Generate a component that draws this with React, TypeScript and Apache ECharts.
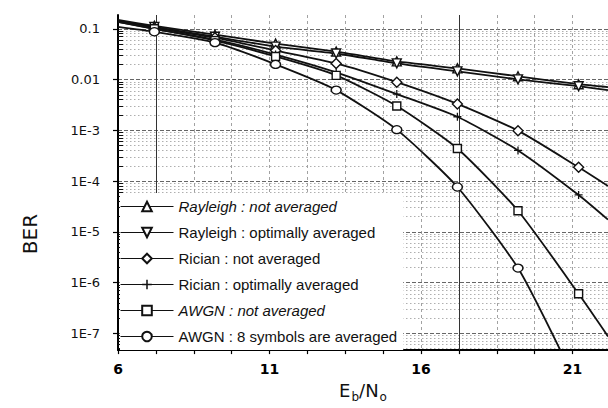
import React, { useEffect, useRef } from "react";
import * as echarts from "echarts";

// Eb/N0 positions of the plotted markers
const EBN0 = [7.2, 9.2, 11.2, 13.2, 15.2, 17.2, 19.2, 21.2];
const X_MIN = 6;
const X_MAX = 22.17;
const X_STEP = 1.25;
const X_LABELS = [6, 11, 16, 21];
const X_SOLID_LINES = [7.25, 17.25];

const Y_MIN = 4.67e-8;
const Y_MAX = 0.187;
const Y_TICKS = [0.1, 0.01, 1e-3, 1e-4, 1e-5, 1e-6, 1e-7];
const Y_TICK_TEXT = ["0.1", "0.01", "1E-3", "1E-4", "1E-5", "1E-6", "1E-7"];
const DECADES = [1e-8, 1e-7, 1e-6, 1e-5, 1e-4, 1e-3, 1e-2, 1e-1];
const MINOR_MULT = [2, 3, 4, 5, 6, 7, 8, 9];

const NAMES = [
  "Rayleigh : not averaged",
  "Rayleigh : optimally averaged",
  "Rician : not averaged",
  "Rician : optimally averaged",
  "AWGN : not averaged",
  "AWGN : 8 symbols are averaged",
];
const ITALIC = [true, false, false, false, true, false];

// BER values at the markers (EBN0), plus curve start (Eb/N0 = 6) and end points
const rayleighNotAvg = [0.114, 0.0764, 0.051, 0.0356, 0.0228, 0.0166, 0.0116, 0.0081];
const rayleighNotAvgEnds = [[6, 0.15], [22.17, 0.0071]];
const rayleighAvg = [0.109, 0.0698, 0.0446, 0.0326, 0.0208, 0.0145, 0.0101, 0.0074];
const rayleighAvgEnds = [[6, 0.143], [22.17, 0.0062]];
const ricianNotAvg = [0.105, 0.0668, 0.0373, 0.0208, 0.00887, 0.00331, 0.000985, 0.000187];
const ricianNotAvgEnds = [[6, 0.143], [22.17, 8.0e-5]];
const ricianAvg = [0.1, 0.0611, 0.0311, 0.0139, 0.00518, 0.00185, 0.000402, 0.0000533];
const ricianAvgEnds = [[6, 0.137], [22.17, 1.74e-5]];
const awgnNotAvg = [0.1, 0.0584, 0.0285, 0.0121, 0.00302, 0.000439, 0.000026, 6.0e-7];
const awgnNotAvgEnds = [[6, 0.137], [22.17, 8.7e-8]];
const awgnAvg = [0.0874, 0.0534, 0.0199, 0.0062, 0.00103, 0.0000764, 0.00000193];
const awgnAvgEnds = [[6, 0.109], [20.6, 4.6e-8]];

const PLUS = "path://M4.2,0H5.8V4.2H10V5.8H5.8V10H4.2V5.8H0V4.2H4.2Z";

function build(marks: number[], ends: number[][]) {
  return [
    { value: ends[0], symbol: "none" },
    ...marks.map((v, i) => [EBN0[i], v]),
    { value: ends[1], symbol: "none" },
  ];
}

export default function App() {
  const ref = useRef<HTMLDivElement>(null);
  useEffect(() => {
    if (!ref.current) return;
    const chart = echarts.init(ref.current, null, { renderer: "svg" });

    const minors: number[] = [];
    DECADES.forEach((d) =>
      MINOR_MULT.forEach((m) => {
        const v = m * d;
        if (v > Y_MIN && v < Y_MAX) minors.push(v);
      })
    );

    const lineBase = {
      type: "line",
      smooth: 0.2,
      lineStyle: { color: "#111", width: 1.8 },
      itemStyle: { color: "#fff", borderColor: "#111", borderWidth: 1.4 },
      z: 3,
    };

    const specs = [
      { d: build(rayleighNotAvg, rayleighNotAvgEnds), symbol: "triangle", size: 9, rot: 0 },
      { d: build(rayleighAvg, rayleighAvgEnds), symbol: "triangle", size: 9, rot: 180 },
      { d: build(ricianNotAvg, ricianNotAvgEnds), symbol: "diamond", size: [10, 10], rot: 0 },
      { d: build(ricianAvg, ricianAvgEnds), symbol: PLUS, size: 8, rot: 0, filled: true },
      { d: build(awgnNotAvg, awgnNotAvgEnds), symbol: "rect", size: 8, rot: 0 },
      { d: build(awgnAvg, awgnAvgEnds), symbol: "circle", size: [10, 8], rot: 0 },
    ];

    const series: any[] = specs.map((s, i) => ({
      ...lineBase,
      name: NAMES[i],
      data: s.d,
      symbol: s.symbol,
      symbolSize: s.size,
      symbolRotate: s.rot,
      itemStyle: s.filled
        ? { color: "#111", borderColor: "#111", borderWidth: 0 }
        : lineBase.itemStyle,
    }));

    series.push({
      type: "line",
      name: "grid-helper",
      data: [],
      silent: true,
      markLine: {
        z: 1,
        silent: true,
        precision: 20,
        symbol: ["none", "none"],
        label: { show: false },
        data: [
          ...minors.map((v) => ({
            yAxis: v,
            lineStyle: { color: "#9a9a9a", type: [1.5, 2.5], width: 0.8 },
          })),
          ...minors.map((v) => [
            { coord: [X_MIN, v], lineStyle: { color: "#111", type: "solid", width: 1 } },
            { coord: [X_MIN + 0.17, v] },
          ]),
          ...X_SOLID_LINES.map((x) => ({
            xAxis: x,
            lineStyle: { color: "#333", type: "solid", width: 1 },
          })),
        ],
      },
    });

    chart.setOption({
      animation: false,
      backgroundColor: "#fff",
      grid: { left: 118, right: 0, top: 15, bottom: 54, containLabel: false },
      graphic: [
        {
          type: "text",
          x: 30,
          y: 234,
          rotation: Math.PI / 2,
          style: {
            text: "BER",
            fontSize: 20,
            fontFamily: "DejaVu Sans",
            fill: "#111",
            align: "center",
            verticalAlign: "middle",
            textAlign: "center",
            textVerticalAlign: "middle",
          },
        },
      ],
      legend: {
        orient: "vertical",
        left: 120,
        top: 193,
        itemWidth: 53,
        itemHeight: 12,
        itemGap: 11,
        padding: [6, 6, 6, 0],
        backgroundColor: "#fff",
        selectedMode: false,
        lineStyle: { width: 1 },
        textStyle: {
          fontFamily: "Liberation Sans, Arial, sans-serif",
          fontSize: 15,
          color: "#111",
        },
        data: NAMES.map((n, i) => ({
          name: n,
          textStyle: ITALIC[i] ? { fontStyle: "italic" } : {},
        })),
      },
      xAxis: {
        type: "value",
        min: X_MIN,
        max: X_MAX,
        interval: X_STEP,
        axisLine: { onZero: false, lineStyle: { color: "#000", width: 2 } },
        axisTick: { show: true, length: 4, lineStyle: { color: "#000", width: 1.2 } },
        axisLabel: {
          showMaxLabel: false,
          margin: 12,
          color: "#000",
          fontSize: 14,
          fontWeight: "bold",
          fontFamily: "DejaVu Sans",
          formatter: (v: number) =>
            X_LABELS.some((l) => Math.abs(l - v) < 1e-6) ? String(Math.round(v)) : "",
        },
        splitLine: { show: true, lineStyle: { color: "#8a8a8a", type: [3, 3], width: 0.8 } },
        name: "{e|E}{s|b}{e|/N}{s|o}",
        nameLocation: "middle",
        nameGap: 29,
        nameTextStyle: {
          rich: {
            e: { fontSize: 18, fontFamily: "DejaVu Sans", color: "#111", verticalAlign: "top", lineHeight: 22 },
            s: { fontSize: 12, fontFamily: "DejaVu Sans", color: "#111", verticalAlign: "bottom", lineHeight: 14, padding: [10, 0, 0, 1] },
          },
        },
      },
      yAxis: {
        type: "log",
        logBase: 10,
        min: Y_MIN,
        max: Y_MAX,
        axisLine: { show: true, lineStyle: { color: "#000", width: 2 } },
        axisTick: { show: true, length: 5, lineStyle: { color: "#000", width: 1.2 } },
        axisLabel: {
          showMinLabel: false,
          showMaxLabel: false,
          margin: 18,
          color: "#111",
          fontSize: 13,
          fontFamily: "DejaVu Sans",
          formatter: (v: number) => {
            const i = Y_TICKS.findIndex((t) => Math.abs(Math.log10(v) - Math.log10(t)) < 1e-6);
            return i >= 0 ? Y_TICK_TEXT[i] : "";
          },
        },
        splitLine: {
          show: true,
          showMinLine: false,
          showMaxLine: false,
          lineStyle: { color: "#555", type: [4, 2], width: 0.9 },
        },
      },
      series,
    });
    return () => chart.dispose();
  }, []);
  return (
    <div
      ref={ref}
      style={{ position: "fixed", left: 0, top: 0, width: 608, height: 408, background: "#fff" }}
    />
  );
}
